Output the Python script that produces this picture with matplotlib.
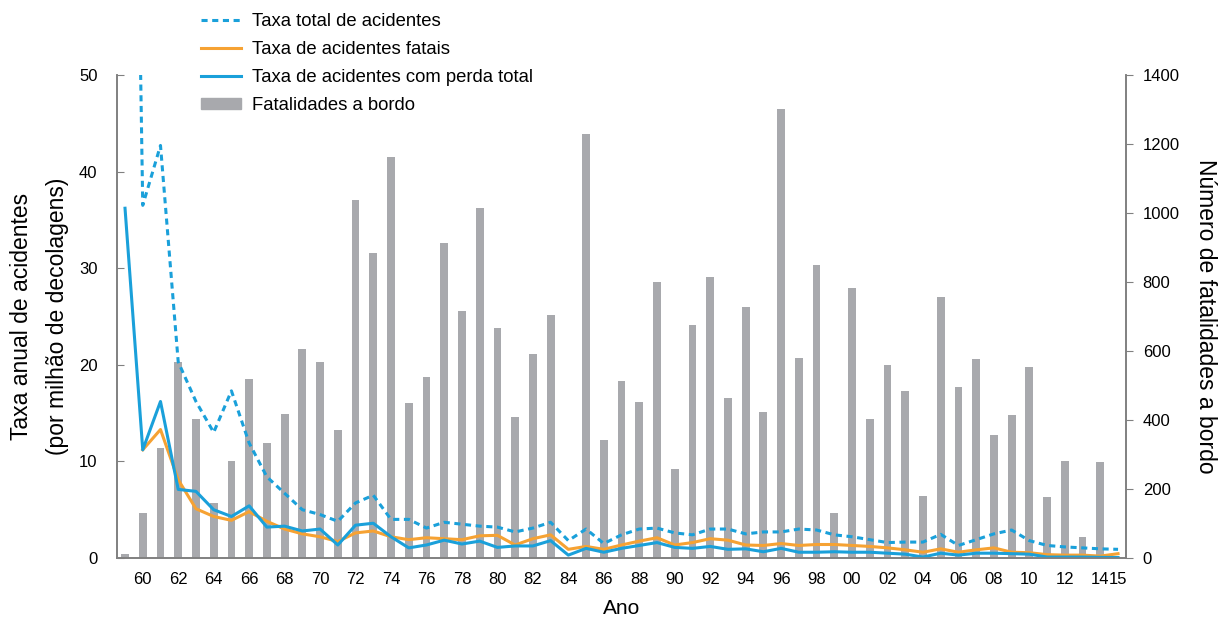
import numpy as np
import matplotlib.pyplot as plt
from matplotlib.lines import Line2D
from matplotlib.patches import Patch

plt.rcParams['font.family'] = ['Liberation Sans', 'DejaVu Sans']

# anos 1959..2015
anos = np.arange(1959, 2016)

# fatalidades a bordo por ano (eixo direito)
fatalidades = [12, 130, 319, 568, 403, 160, 281, 519, 333, 418,
               606, 568, 371, 1038, 885, 1163, 450, 525, 914, 716,
               1015, 667, 409, 592, 705, 0, 1230, 342, 513, 452,
               800, 258, 676, 815, 464, 728, 423, 1300, 580, 850,
               130, 783, 403, 560, 484, 180, 757, 496, 577, 357,
               415, 554, 177, 281, 61, 278, 0]

# taxas por milhao de decolagens (eixo esquerdo)
taxa_total = [150, 36.5, 42.7, 20.3, 16.2, 13.0, 17.3, 11.9, 8.4, 6.7,
              5.0, 4.5, 3.8, 5.7, 6.5, 4.0, 4.0, 3.1, 3.7, 3.5,
              3.3, 3.2, 2.7, 3.1, 3.7, 1.8, 3.0, 1.5, 2.4, 3.0,
              3.1, 2.6, 2.4, 3.0, 3.0, 2.5, 2.7, 2.7, 3.0, 2.9,
              2.4, 2.2, 1.9, 1.6, 1.65, 1.65, 2.45, 1.3, 1.9, 2.5,
              2.9, 1.8, 1.3, 1.15, 1.05, 0.95, 0.9]

taxa_fatais = [np.nan, 11.2, 13.3, 8.1, 5.1, 4.3, 3.9, 4.8, 3.8, 3.0,
               2.5, 2.2, 1.7, 2.6, 2.8, 2.2, 1.9, 2.1, 2.0, 1.9,
               2.3, 2.35, 1.35, 2.0, 2.4, 0.9, 1.2, 0.9, 1.35, 1.75,
               2.1, 1.35, 1.6, 2.0, 1.85, 1.35, 1.3, 1.5, 1.3, 1.4,
               1.4, 1.3, 1.2, 1.05, 0.85, 0.6, 0.95, 0.6, 0.85, 1.05,
               0.6, 0.55, 0.35, 0.3, 0.3, 0.2, 0.45]

taxa_perda_total = [36.2, 11.2, 16.2, 7.1, 6.9, 5.0, 4.3, 5.4, 3.2, 3.3,
                    2.8, 3.0, 1.35, 3.4, 3.6, 2.2, 1.05, 1.35, 1.85, 1.45,
                    1.75, 1.1, 1.25, 1.25, 1.8, 0.3, 1.0, 0.6, 1.0, 1.3,
                    1.6, 1.1, 1.0, 1.2, 0.9, 0.95, 0.65, 1.0, 0.6, 0.6,
                    0.65, 0.6, 0.6, 0.5, 0.4, 0.1, 0.5, 0.3, 0.5, 0.5,
                    0.45, 0.4, 0.1, 0.1, 0.1, 0.07, 0.05]

rotulos_x = [f'{a % 100:02d}' for a in range(1960, 2015, 2)] + ['15']
posicoes_x = list(range(1960, 2015, 2)) + [2015]

azul = '#1aa0da'
laranja = '#f6a233'
cinza = '#a8a9ad'
eixo = '#808080'
tracejado = (0, (2.0, 1.5))

fig = plt.figure(figsize=(12.23, 6.19), dpi=100)
ax = fig.add_axes([0.0957, 0.0985, 0.825, 0.7805])
ax2 = ax.twinx()

# barras no eixo direito, linhas por cima
ax2.bar(anos, fatalidades, width=0.44, color=cinza, zorder=1)
ax.set_zorder(ax2.get_zorder() + 1)
ax.patch.set_visible(False)

ax.plot(anos, taxa_total, color=azul, lw=2.2, linestyle=tracejado)
ax.plot(anos, taxa_fatais, color=laranja, lw=2.2)
ax.plot(anos, taxa_perda_total, color=azul, lw=2.2)

ax.set_xlim(1958.55, 2015.45)
ax.set_ylim(0, 50)
ax2.set_ylim(0, 1400)
ax.set_yticks(range(0, 51, 10))
ax2.set_yticks(range(0, 1401, 200))
ax.set_xticks(posicoes_x)
ax.set_xticklabels(rotulos_x)

for a in (ax, ax2):
    a.spines['top'].set_visible(False)
    for s in ('left', 'right', 'bottom'):
        a.spines[s].set_color(eixo)
        a.spines[s].set_linewidth(1.2)

ax.tick_params(axis='x', length=0, labelsize=12, pad=10)
ax.tick_params(axis='y', direction='in', length=5, color=eixo,
               labelsize=12, pad=14)
ax2.tick_params(axis='y', direction='out', length=5, color=eixo,
                labelsize=12, pad=7)

ax.set_xlabel('Ano', fontsize=15, labelpad=9)
ax.set_ylabel('Taxa anual de acidentes\n(por milhão de decolagens)',
              fontsize=16.5, labelpad=7, linespacing=1.75)
ax2.set_ylabel('Número de fatalidades a bordo', fontsize=16.5,
               rotation=270, labelpad=27)

itens = [
    Line2D([], [], color=azul, lw=2.2, linestyle=tracejado),
    Line2D([], [], color=laranja, lw=2.2),
    Line2D([], [], color=azul, lw=2.2),
    Patch(color=cinza),
]
nomes = ['Taxa total de acidentes', 'Taxa de acidentes fatais',
         'Taxa de acidentes com perda total', 'Fatalidades a bordo']
fig.legend(itens, nomes, loc='upper left', bbox_to_anchor=(0.151, 1.006),
           frameon=False, fontsize=13.3, handlelength=2.15, handleheight=0.55,
           labelspacing=0.6, handletextpad=0.6)

fig.savefig('out.png', dpi=100)
